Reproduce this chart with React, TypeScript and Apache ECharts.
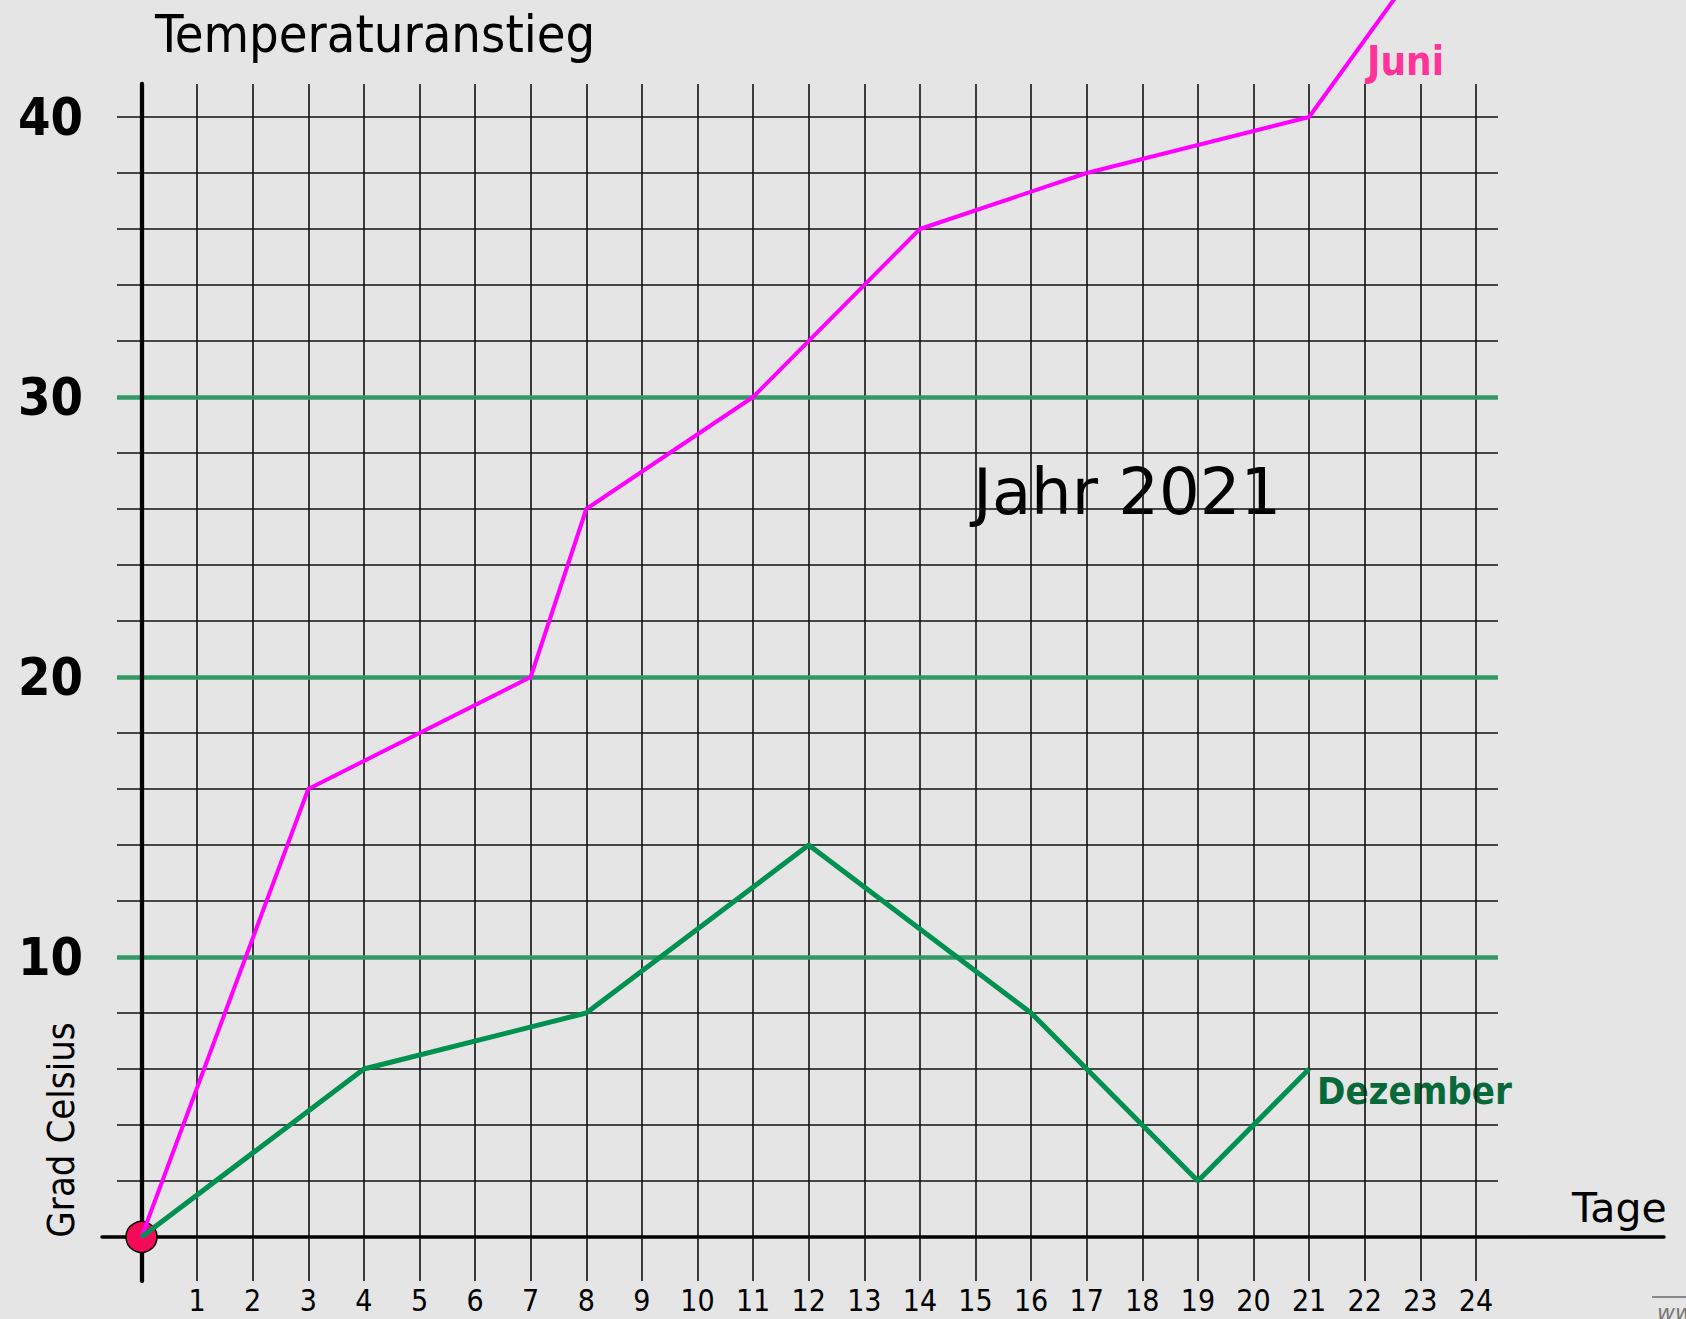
import React, { useEffect, useRef } from "react";
import * as echarts from "echarts";

// ---- data ----
const juniDays = [0, 3, 7, 8, 11, 14, 17, 21, 23];
const juniTemps = [0, 16, 20, 26, 30, 36, 38, 40, 45.5];
const dezDays = [0, 4, 8, 12, 16, 19, 21];
const dezTemps = [0, 6, 8, 14, 8, 2, 6];
const yLabelValues = [10, 20, 30, 40];
const originPoint = [[0, 0]];

const W = 1686;
const H = 1319;
const COND = "DejaVu Sans Condensed";
const SANS = "DejaVu Sans";

export default function App() {
  const ref = useRef<HTMLDivElement>(null);
  useEffect(() => {
    document.body.style.margin = "0";
    document.body.style.background = "#E5E5E5";
    const chart = echarts.init(ref.current!, null, { renderer: "svg" });
    const gridLine = { color: "#111", width: 1.6 };
    const option: any = {
      animation: false,
      backgroundColor: "#E5E5E5",
      grid: [
        { left: 141.5, right: 210.1, top: 117, bottom: 82 }, // data
        { left: 141.5, right: 210.1, top: 84, bottom: 38 }, // vertical grid lines
        { left: 117, right: 188, top: 117, bottom: 82 }, // horizontal grid lines
        { left: 117, right: 188, top: 397, bottom: 362 }, // green lines
        { left: 102, right: 22, top: 117, bottom: 82 }, // x axis line
      ],
      xAxis: [
        { gridIndex: 0, type: "value", min: 0, max: 24, show: false },
        {
          gridIndex: 1,
          type: "value",
          min: 0,
          max: 24,
          interval: 1,
          z: 1,
          axisLine: { show: false },
          axisTick: { show: false },
          splitLine: { show: true, lineStyle: gridLine },
          axisLabel: {
            formatter: (v: number) => (v === 0 ? "" : String(v)),
            fontFamily: COND,
            fontSize: 30,
            color: "#000",
            margin: 4,
          },
        },
        { gridIndex: 2, type: "value", min: 0, max: 1, show: false },
        { gridIndex: 3, type: "value", min: 0, max: 1, show: false },
        {
          gridIndex: 4,
          type: "value",
          min: 0,
          max: 1,
          z: 4,
          axisLine: { show: true, lineStyle: { color: "#000", width: 3.5 } },
          axisTick: { show: false },
          axisLabel: { show: false },
          splitLine: { show: false },
        },
      ],
      yAxis: [
        { gridIndex: 0, type: "value", min: 0, max: 40, show: false },
        {
          gridIndex: 1,
          type: "value",
          min: 0,
          max: 1,
          z: 4,
          axisLine: { show: true, lineStyle: { color: "#000", width: 4.3 } },
          axisTick: { show: false },
          axisLabel: { show: false },
          splitLine: { show: false },
        },
        {
          gridIndex: 2,
          type: "value",
          min: 0,
          max: 40,
          interval: 2,
          z: 1,
          axisLine: { show: false },
          axisTick: { show: false },
          splitLine: { show: true, lineStyle: gridLine },
          axisLabel: {
            formatter: (v: number) => (yLabelValues.includes(v) ? String(v) : ""),
            fontFamily: COND,
            fontWeight: "bold",
            fontSize: 52,
            color: "#000",
            margin: 34,
          },
        },
        {
          gridIndex: 3,
          type: "value",
          min: 10,
          max: 30,
          interval: 10,
          z: 2,
          axisLine: { show: false },
          axisTick: { show: false },
          axisLabel: { show: false },
          splitLine: { show: true, lineStyle: { color: "#339966", width: 4.7 } },
        },
        { gridIndex: 4, type: "value", min: 0, max: 1, show: false },
      ],
      series: [
        {
          type: "scatter",
          xAxisIndex: 0,
          yAxisIndex: 0,
          data: originPoint,
          symbolSize: 31,
          itemStyle: { color: "#F50A5A", borderColor: "#000", borderWidth: 1.5, opacity: 1 },
          z: 5,
          silent: true,
        },
        {
          name: "Juni",
          type: "line",
          xAxisIndex: 0,
          yAxisIndex: 0,
          data: juniDays.map((d, i) => [d, juniTemps[i]]),
          showSymbol: false,
          symbol: "none",
          clip: false,
          lineStyle: { color: "#FF00FF", width: 4 },
          z: 6,
        },
        {
          name: "Dezember",
          type: "line",
          xAxisIndex: 0,
          yAxisIndex: 0,
          data: dezDays.map((d, i) => [d, dezTemps[i]]),
          showSymbol: false,
          symbol: "none",
          lineStyle: { color: "#00904F", width: 5 },
          z: 7,
        },
      ],
      graphic: [
        {
          type: "text",
          x: 155,
          y: 34,
          style: { text: "Temperaturanstieg", fontFamily: COND, fontSize: 52, fill: "#000", align: "left", verticalAlign: "middle" },
        },
        {
          type: "text",
          x: 973,
          y: 492,
          style: { text: "Jahr 2021", fontFamily: SANS, fontSize: 64, fill: "#000", align: "left", verticalAlign: "middle" },
        },
        {
          type: "text",
          x: 1367,
          y: 61,
          style: { text: "Juni", fontFamily: COND, fontWeight: "bold", fontSize: 40, fill: "#FF3399", align: "left", verticalAlign: "middle" },
        },
        {
          type: "text",
          x: 1317,
          y: 1091,
          style: { text: "Dezember", fontFamily: COND, fontWeight: "bold", fontSize: 38, fill: "#07693A", align: "left", verticalAlign: "middle" },
        },
        {
          type: "text",
          x: 1572,
          y: 1208,
          style: { text: "Tage", fontFamily: SANS, fontSize: 41, fill: "#000", align: "left", verticalAlign: "middle" },
        },
        {
          type: "text",
          x: 61,
          y: 1130,
          rotation: Math.PI / 2,
          style: { text: "Grad Celsius", fontFamily: COND, fontSize: 38, fill: "#000", align: "center", verticalAlign: "middle" },
        },
        {
          type: "line",
          shape: { x1: 1652, y1: 1297, x2: 1690, y2: 1297 },
          style: { stroke: "#888", lineWidth: 2 },
        },
        {
          type: "text",
          x: 1657,
          y: 1312,
          style: { text: "www", fontFamily: SANS, fontStyle: "italic", fontSize: 22, fill: "#777", align: "left", verticalAlign: "middle" },
        },
      ],
    };
    chart.setOption(option);
    return () => chart.dispose();
  }, []);
  return <div ref={ref} style={{ width: W, height: H }} />;
}
